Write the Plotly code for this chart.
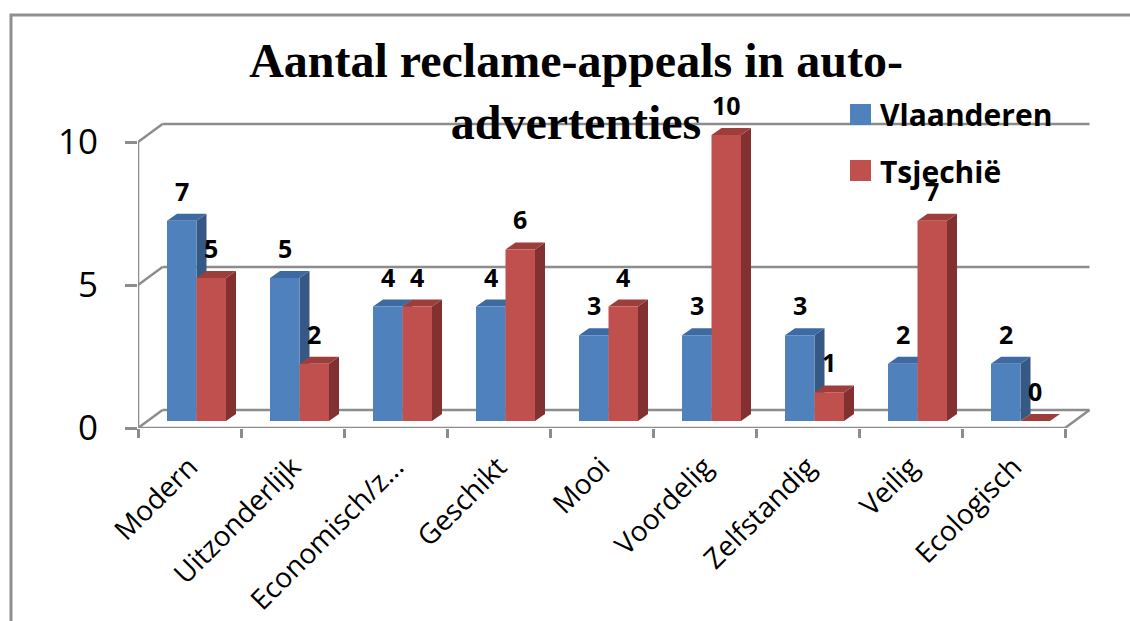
import plotly.graph_objects as go

# ---- data -------------------------------------------------------------
categories = ["Modern", "Uitzonderlijk", "Economisch/z…", "Geschikt", "Mooi",
              "Voordelig", "Zelfstandig", "Veilig", "Ecologisch"]
series_names = ["Vlaanderen", "Tsjechië"]
vlaanderen = [7, 5, 4, 4, 3, 3, 3, 2, 2]
tsjechie = [5, 2, 4, 6, 4, 10, 1, 7, 0]
y_ticks = [0, 5, 10]
title_text = "Aantal reclame-appeals in auto-<br>advertenties"

# ---- styling ----------------------------------------------------------
W, H = 1130, 621
PLOT_L, PLOT_R, PLOT_T, PLOT_B = 138, 1095, 20, 428
PX_PER_CAT = 103.0      # pixels per category on the front plane
PX_PER_UNIT = 28.6      # pixels per value unit

front_colors = ["#4F81BD", "#C0504D"]
top_colors = ["#3E6AA3", "#9E3E3B"]
side_colors = ["#355884", "#823130"]
grid_color = "#8C8C8C"
label_font = "Open Sans"

# 3-D projection offsets, expressed in axis units
WALL_DX, WALL_DY = 24.5 / PX_PER_CAT, 18 / PX_PER_UNIT   # depth of back wall
BAR_SX, BAR_SY = 7 / PX_PER_CAT, 7 / PX_PER_UNIT         # bar row position in depth
BAR_DX, BAR_DY = 10 / PX_PER_CAT, 7 / PX_PER_UNIT        # depth of each column
BAR_W = 29.5 / PX_PER_CAT

x_range = [-0.5, -0.5 + (PLOT_R - PLOT_L) / PX_PER_CAT]
y_range = [0, (PLOT_B - PLOT_T) / PX_PER_UNIT]
n = len(categories)
idx = list(range(n))


def paper_x(px):
    return (px - PLOT_L) / (PLOT_R - PLOT_L)


def paper_y(py):
    return (PLOT_B - py) / (PLOT_B - PLOT_T)


fig = go.Figure()

# front faces of the columns
for k, (name, vals) in enumerate(zip(series_names, [vlaanderen, tsjechie])):
    fig.add_trace(go.Bar(
        x=idx, y=vals, name=name,
        width=BAR_W, offset=-BAR_W if k == 0 else 0,
        marker=dict(color=front_colors[k], line=dict(width=0)),
        xaxis="x3", yaxis="y3", showlegend=False,
        hovertemplate="%{y}<extra>" + name + "</extra>",
    ))

# invisible trace so the category axis gets its labels
fig.add_trace(go.Scatter(x=categories, y=[None] * n, mode="markers",
                         showlegend=False, hoverinfo="skip"))

shapes = []
line_style = dict(color=grid_color, width=2.5)

# chart-area frame
shapes.append(dict(type="rect", xref="paper", yref="paper",
                   x0=paper_x(11), x1=paper_x(1145), y0=paper_y(15), y1=paper_y(640),
                   line=dict(color="#8F8F8F", width=3), layer="below"))

# back wall gridlines, left wall diagonals
x_front_l, x_front_r = -0.5, n - 0.5
for v in y_ticks:
    shapes.append(dict(type="line", xref="x2", yref="y2",
                       x0=x_front_l + WALL_DX, x1=x_front_r + WALL_DX,
                       y0=v + WALL_DY, y1=v + WALL_DY, line=line_style, layer="below"))
    shapes.append(dict(type="line", xref="x2", yref="y2",
                       x0=x_front_l, x1=x_front_l + WALL_DX,
                       y0=v, y1=v + WALL_DY, line=line_style, layer="below"))
# floor right edge
shapes.append(dict(type="line", xref="x2", yref="y2",
                   x0=x_front_r, x1=x_front_r + WALL_DX, y0=0, y1=WALL_DY,
                   line=line_style, layer="below"))
# front axis lines
shapes.append(dict(type="line", xref="x2", yref="y2",
                   x0=x_front_l, x1=x_front_r, y0=0, y1=0, line=line_style, layer="below"))
shapes.append(dict(type="line", xref="x2", yref="y2",
                   x0=x_front_l, x1=x_front_l, y0=0, y1=max(y_ticks),
                   line=line_style, layer="below"))

# side and top faces of every column
for k, vals in enumerate([vlaanderen, tsjechie]):
    for i, v in enumerate(vals):
        xl = i - BAR_W if k == 0 else i
        xr = xl + BAR_W
        side = (f"M {xr},0 L {xr + BAR_DX},{BAR_DY} L {xr + BAR_DX},{v + BAR_DY} "
                f"L {xr},{v} Z")
        top = (f"M {xl},{v} L {xl + BAR_DX},{v + BAR_DY} L {xr + BAR_DX},{v + BAR_DY} "
               f"L {xr},{v} Z")
        if v > 0:
            shapes.append(dict(type="path", xref="x3", yref="y3", path=side,
                               fillcolor=side_colors[k], line=dict(width=0), layer="below"))
        shapes.append(dict(type="path", xref="x3", yref="y3", path=top,
                           fillcolor=top_colors[k], line=dict(width=0), layer="below"))

# legend keys
legend_rows = [104, 160]
for k, name in enumerate(series_names):
    y0 = legend_rows[k]
    shapes.append(dict(type="rect", xref="paper", yref="paper",
                       x0=paper_x(850), x1=paper_x(871), y0=paper_y(y0 + 21), y1=paper_y(y0),
                       fillcolor=front_colors[k], line=dict(width=0)))

annotations = []
for k, name in enumerate(series_names):
    annotations.append(dict(xref="paper", yref="paper", x=paper_x(878), y=paper_y(legend_rows[k] + 11),
                            text=f"<b>{name}</b>", showarrow=False, xanchor="left", yanchor="middle",
                            font=dict(family=label_font, size=30, color="black")))

# value labels above each column
for k, vals in enumerate([vlaanderen, tsjechie]):
    for i, v in enumerate(vals):
        xc = i - BAR_W / 2 if k == 0 else i + BAR_W / 2
        annotations.append(dict(xref="x3", yref="y3", x=xc, y=v, yshift=30,
                                text=f"<b>{v}</b>", showarrow=False,
                                xanchor="center", yanchor="middle",
                                font=dict(family=label_font, size=25, color="black")))

fig.update_layout(
    width=W, height=H,
    margin=dict(l=PLOT_L, r=W - PLOT_R, t=PLOT_T, b=H - PLOT_B, pad=0, autoexpand=False),
    paper_bgcolor="white", plot_bgcolor="white",
    barmode="overlay",
    showlegend=False,
    title=dict(text=title_text, xref="container", yref="container",
               x=576 / W, xanchor="center", y=1 - 77 / H, yanchor="top", automargin=False,
               font=dict(family="Liberation Serif", size=48, color="black", weight="bold")),
    xaxis=dict(type="category", categoryorder="array", categoryarray=categories,
               range=x_range, tickson="boundaries", ticks="outside", ticklen=9,
               tickwidth=2.5, tickcolor=grid_color, tickangle=-45, ticklabelstandoff=16,
               tickfont=dict(family=label_font, size=28, color="black"), automargin=False,
               showgrid=False, showline=False, zeroline=False, fixedrange=True),
    yaxis=dict(range=y_range, tickvals=y_ticks, ticks="outside", ticklen=12,
               tickwidth=2.5, tickcolor=grid_color, ticklabelstandoff=20,
               tickfont=dict(family=label_font, size=35, color="black"), automargin=False,
               showgrid=False, showline=False, zeroline=False, fixedrange=True),
    xaxis2=dict(overlaying="x", anchor="y2", range=x_range, visible=False, automargin=False),
    yaxis2=dict(overlaying="y", anchor="x2", range=y_range, visible=False, automargin=False),
    xaxis3=dict(overlaying="x", anchor="y3", automargin=False,
                range=[x_range[0] - BAR_SX, x_range[1] - BAR_SX], visible=False),
    yaxis3=dict(overlaying="y", anchor="x3", automargin=False,
                range=[y_range[0] - BAR_SY, y_range[1] - BAR_SY], visible=False),
    shapes=shapes,
    annotations=annotations,
)

fig.write_html("out.html")
